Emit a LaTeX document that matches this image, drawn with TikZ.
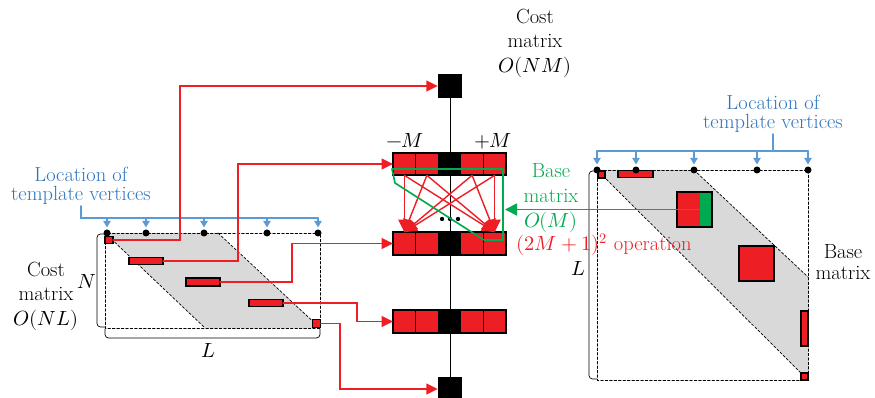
\documentclass[tikz,border=0pt]{standalone}
\usepackage{amsmath}
\usepackage{unicode-math}
\setmathfont{Latin Modern Math}
\usetikzlibrary{arrows.meta,calc,positioning}
\definecolor{costred}{RGB}{237,30,36}
\definecolor{tplblue}{RGB}{91,155,213}
\definecolor{tpltext}{RGB}{46,117,190}
\definecolor{basegreen}{RGB}{0,170,80}
\definecolor{bandgray}{RGB}{217,217,217}

\begin{document}
\begin{tikzpicture}[x=0.3mm,y=-0.3mm,line cap=round,
 lbl/.style={font=\fontsize{17.5}{21}\selectfont,align=center,inner sep=1pt},
 tpl/.style={font=\fontsize{17.5}{16.5}\selectfont,align=center,inner sep=1pt,text=tpltext},
 redblk/.style={draw=black,line width=1.1pt,fill=costred,inner sep=0pt,outer sep=0pt},
 cell/.style={redblk,minimum width=6.78mm,minimum height=6.78mm},
 dashline/.style={black,line width=0.6pt,dash pattern=on 2.2pt off 1.6pt},
 bracketline/.style={black,line width=0.6pt,rounded corners=3pt},
 tplline/.style={tplblue,line width=1.5pt},
 tplarrow/.style={tplblue,line width=1.5pt,-{Triangle[length=2mm,width=2.2mm]}},
 costarrow/.style={costred,line width=1.4pt,-{Triangle[length=3.4mm,width=3.2mm]}},
 fanarrow/.style={costred,line width=1.2pt,-{Triangle[length=3.8mm,width=3.6mm]}},
 greenarrow/.style={basegreen,line width=1.5pt,-{Triangle[length=3.6mm,width=3.6mm]}}]
 \useasboundingbox (0,0) rectangle (875,398);

 \fill[bandgray] (105,233) -- (218,233) -- (320,328) -- (205,328) -- cycle;
 \draw[dashline] (105,233) -- (205,328) (218,233) -- (320,328);
 \draw[dashline] (105,233) rectangle (320,328);
 \node[redblk,minimum width=2.4mm,minimum height=2.2mm] (nlA) at (109,240) {};
 \node[redblk,minimum width=10.2mm,minimum height=2.2mm] (nlB) at (146,261) {};
 \node[redblk,minimum width=10.2mm,minimum height=2.4mm] (nlC) at (203,282) {};
 \node[redblk,minimum width=10.2mm,minimum height=2.2mm] (nlD) at (266,303) {};
 \node[redblk,minimum size=2.6mm] (nlE) at (316.5,323.5) {};
 \foreach \x in {107,146,204,267,318} \fill (\x,233) circle (1.05mm);
 \draw[bracketline] (105,234) -- (97,234) -- (97,327) -- (105,327);
 \draw[bracketline] (105,329) -- (105,338) -- (320,338) -- (320,329);
 \node[lbl] (nN) at (87,282) {$N$};
 \node[lbl] (nL) at (208,350) {$L$};
 \node[lbl] (costNL) at (46,296) {Cost\\matrix\\$O(NL)$};

 \node[tpl,anchor=south] (locL) at (81,206) {Location of\\template vertices};
 \draw[tplline] (locL.south) |- (318,218);
 \foreach \x in {107,146,204,267,318} \draw[tplarrow] (\x,218) -- (\x,227.5);

 \node[fill=black,minimum size=7.2mm,inner sep=0pt] (topsq) at (450,86) {};
 \node[fill=black,minimum size=7.2mm,inner sep=0pt] (botsq) at (450,389) {};
 \draw[line width=0.6pt] (topsq) -- (botsq);
 \foreach \r/\y in {1/164,2/243.5,3/321.5} {
  \foreach \c/\f in {1/costred,2/costred,3/black,4/costred,5/costred}
   \node[cell,fill=\f] (r\r-\c) at ({393+22.6*(\c-0.5)},\y) {};
  \draw[line width=1.6pt] (r\r-1.north west) rectangle (r\r-5.south east);
 }
 \foreach \c in {1,2,4,5}
  \foreach \t in {1,5}
   \draw[fanarrow] (r1-\c.south) -- (r2-\t.north);
 \foreach \x in {442,450,458} \fill (\x,219) circle (0.65mm);
 \node[lbl] (mneg) at (405,141) {$-M$};
 \node[lbl] (mpos) at (493,141) {$+M$};
 \node[lbl] (costNM) at (535,43) {Cost\\matrix\\$O(NM)$};

 \draw[costarrow] (nlA.east) -- ++(67,0) |- (topsq.west);
 \draw[costarrow] (nlB.east) -- ++(75,0) |- (r1-1.west);
 \draw[costarrow] (nlC.east) -- ++(72,0) |- (r2-1.west);
 \draw[costarrow] (nlD.east) -- ++(74,0) |- (r3-1.west);
 \draw[costarrow] (nlE.east) -- ++(19,0) |- (botsq.west);

 \draw[basegreen,line width=1.4pt,line join=round]
  (392,169) -- (503,169) -- (503,240) -- (484,240) -- (395,183) -- cycle;

 \fill[bandgray] (597,170) -- (694,170) -- (808,277) -- (808,380) -- cycle;
 \draw[dashline] (597,170) -- (808,380) (694,170) -- (808,277);
 \draw[dashline] (597,170) rectangle (808,380);
 \node[redblk,minimum size=2.1mm] (nrA) at (601.5,174.5) {};
 \node[redblk,minimum width=10.5mm,minimum height=2mm] (nrB) at (635.5,174) {};
 \node[redblk,minimum size=10.5mm] (nrC) at (694.5,209.5) {};
 \fill[basegreen] ([xshift=-3.6mm]nrC.north east) rectangle (nrC.south east);
 \draw[black,line width=1.1pt] (nrC.north west) rectangle (nrC.south east);
 \node[redblk,minimum size=10.5mm] (nrD) at (756.5,263.5) {};
 \node[redblk,minimum width=2.1mm,minimum height=10.5mm] (nrE) at (804.5,328.5) {};
 \node[redblk,minimum size=2.1mm] (nrF) at (804.5,376.5) {};
 \foreach \x in {597,636,694,757,808} \fill (\x,170) circle (1.05mm);
 \draw[bracketline] (597,171) -- (589,171) -- (589,379) -- (597,379);
 \node[lbl] (rL) at (578,268) {$L$};
 \node[lbl,font=\fontsize{17.5}{17.5}\selectfont] (baseR) at (843,262) {Base\\matrix};

 \node[tpl,anchor=south] (locR) at (773,134) {Location of\\template vertices};
 \draw[tplline] (597,151) -- (808,151) (locR.south) -- (locR.south |- 0,151);
 \foreach \x in {597,636,694,757,808} \draw[tplarrow] (\x,151) -- (\x,164.5);

 \coordinate (gsrc) at ([xshift=-1.5mm]nrC.east);
 \coordinate (gtip) at (505,209.5);
 \draw[greenarrow] (gsrc) -- (gtip);
 \node[lbl,text=basegreen] (baseM) at (551,198) {Base\\matrix\\$O(M)$};
 \node[lbl,text=costred] (ops) at (604,245) {$(2M+1)^2$ operation};
\end{tikzpicture}
\end{document}
